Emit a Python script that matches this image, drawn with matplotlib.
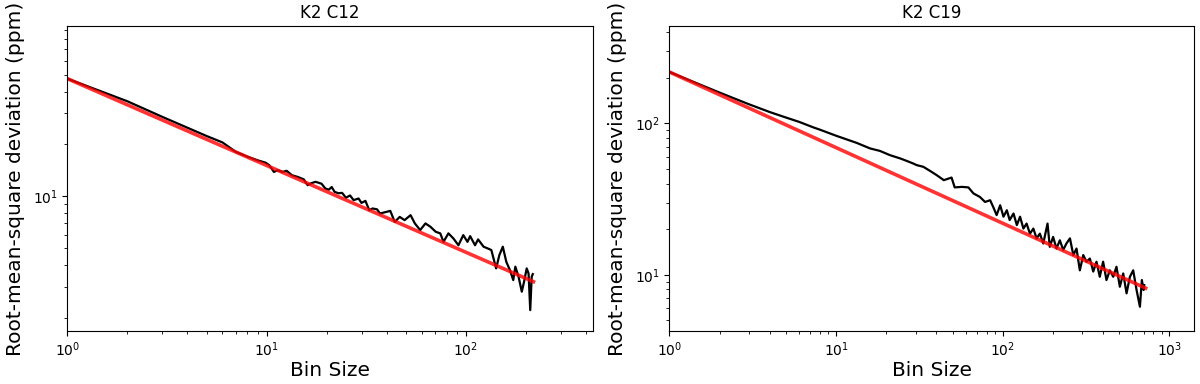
import matplotlib.pyplot as plt

# K2 C12: rms vs bin size (black) and white-noise expectation (red)
c12_bins = [1, 2, 3, 4, 5, 6, 7, 8, 9, 9.86, 10.3, 10.87, 11.37, 12.0, 12.6, 13.4, 14.35,
            15.35, 16.05, 16.8, 17.6, 18.85, 19.7, 20.5, 21.2, 21.9, 22.9, 23.9, 25.0, 26.2,
            27.3, 28.9, 29.9, 31.3, 32.7, 34.0, 35.8, 37, 41.7, 43.9, 46.5, 49.2, 52.7, 55.4,
            58.9, 62.6, 66.3, 70.5, 74.3, 77.1, 81.6, 86.5, 91.6, 96.9, 101.7, 104.9, 111,
            115, 122.5, 127.7, 134, 141.6, 147, 153, 159.3, 166, 172.6, 176.8, 183.5, 190.5,
            195.6, 201.6, 206, 210, 213.6, 216.3]
c12_rms = [47.5, 35.2, 28.6, 24.8, 22.2, 20.4, 18.0, 16.9, 16.1, 15.6, 15.1, 13.8, 14.1,
           13.8, 14.0, 13.2, 12.9, 12.5, 11.57, 11.9, 12.1, 11.8, 11.07, 10.9, 11.3, 10.6,
           10.4, 10.45, 9.8, 10.1, 9.49, 9.7, 9.15, 9.4, 8.31, 8.5, 8.4, 7.95, 8.23, 7.11,
           7.6, 7.28, 7.78, 6.97, 6.38, 6.97, 6.67, 6.24, 6.11, 5.46, 6.11, 5.71, 5.22, 5.97,
           5.46, 5.89, 5.22, 5.64, 5.12, 5.02, 4.9, 3.84, 4.58, 5.12, 4.19, 3.76, 3.29, 3.93,
           3.44, 2.82, 3.22, 3.84, 3.59, 2.21, 3.44, 3.56]
c12_fit_bins = [1, 218]
c12_fit_rms = [47.5, 3.22]

# K2 C19
c19_bins = [1, 2, 3, 4, 5, 6, 7.31, 8, 10, 11.6, 13.3, 16, 18.3, 21.1, 24.3, 26.5, 29, 30.4,
            33.4, 37.4, 40.2, 44.3, 49.3, 51.5, 56.9, 62.2, 66.7, 72.9, 78.3, 84, 87.6, 91.9,
            96.5, 101, 105.8, 110, 116, 121.5, 127, 133, 139, 145.6, 152.6, 159.6, 167, 175,
            185.6, 191.5, 200.5, 210, 220, 230.5, 241, 253, 265, 277, 290, 304, 318, 333,
            349, 365, 382, 400, 419, 439, 460, 481, 504, 528, 553, 579, 606, 635, 665, 683,
            700, 706]
c19_rms = [219, 160, 134, 119, 109.5, 102.5, 94.2, 91, 83, 78.4, 74.4, 68.4, 65.9, 61.7,
           58.7, 56.6, 54.4, 53.1, 51.7, 47.9, 45.5, 42.2, 43.9, 37.8, 38.1, 37.8, 34.5,
           32.7, 30.3, 31.1, 28.1, 24.8, 28.8, 24.2, 26.7, 23.0, 25.4, 21.3, 24.2, 20.2,
           21.8, 18.7, 20.2, 17.4, 18.7, 16.1, 21.8, 15.3, 17.8, 14.9, 16.9, 14.6, 16.1,
           17.4, 13.5, 14.9, 10.7, 13.5, 12.2, 12.8, 10.5, 12.2, 9.7, 12.2, 9.23, 10.7, 9.7,
           11.3, 8.34, 10.2, 7.54, 9.7, 10.7, 7.93, 6.15, 9.23, 7.93, 8.55]
c19_fit_bins = [1, 720]
c19_fit_rms = [219, 8.16]

fig = plt.figure(figsize=(12, 3.84), dpi=100)
ax1 = fig.add_axes([0.0561, 0.138, 0.4378, 0.794])
ax2 = fig.add_axes([0.5578, 0.138, 0.4373, 0.794])

panels = [
    (ax1, "K2 C12", c12_bins, c12_rms, c12_fit_bins, c12_fit_rms, (1, 432), (1.675, 95.3)),
    (ax2, "K2 C19", c19_bins, c19_rms, c19_fit_bins, c19_fit_rms, (1, 1406), (4.25, 440)),
]

for ax, title, bx, by, fx, fy, xlim, ylim in panels:
    ax.plot(bx, by, color='black', lw=1.6)
    ax.plot(fx, fy, color='red', lw=2.6, alpha=0.8)
    ax.set_xscale('log')
    ax.set_yscale('log')
    ax.set_xlim(*xlim)
    ax.set_ylim(*ylim)
    ax.set_title(title, fontsize=12)
    ax.set_xlabel("Bin Size", fontsize=14.5)
    ax.set_ylabel("Root-mean-square deviation (ppm)", fontsize=14.5)
    ax.xaxis.set_label_coords(0.5, -0.10)
    ax.yaxis.set_label_coords(-0.08, 0.5)
    ax.tick_params(which='both', labelsize=10)

fig.savefig("out.png", dpi=100)
